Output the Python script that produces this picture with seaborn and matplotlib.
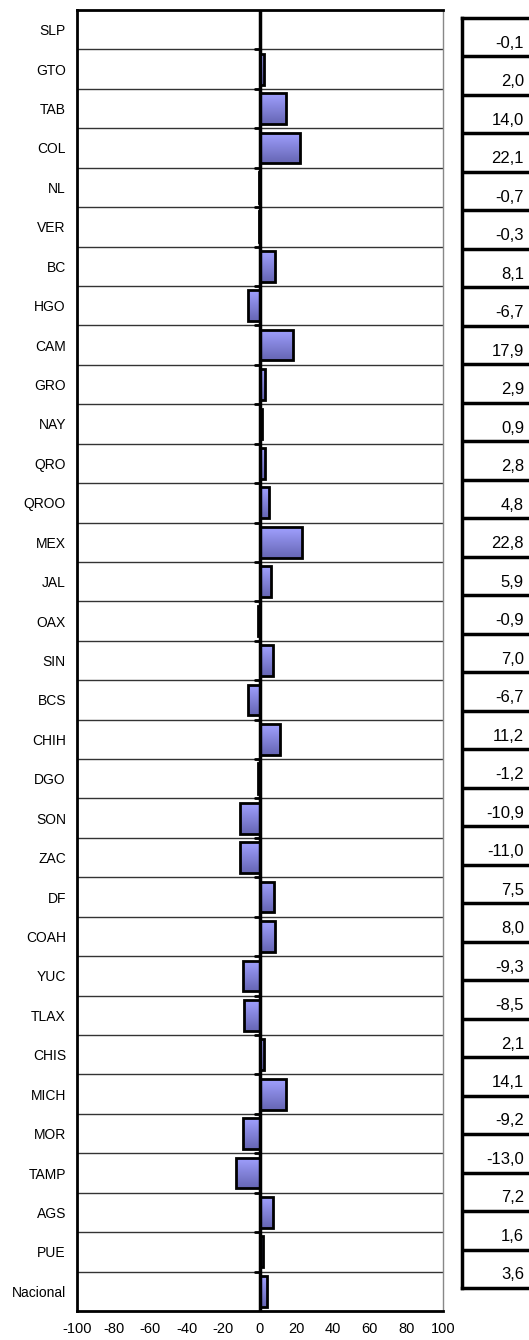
import matplotlib
matplotlib.use("Agg")
import matplotlib.pyplot as plt
import seaborn as sns
import pandas as pd
import numpy as np
from matplotlib.colors import LinearSegmentedColormap

# --- data ---
estados = ['SLP', 'GTO', 'TAB', 'COL', 'NL', 'VER', 'BC', 'HGO', 'CAM', 'GRO', 'NAY',
           'QRO', 'QROO', 'MEX', 'JAL', 'OAX', 'SIN', 'BCS', 'CHIH', 'DGO', 'SON', 'ZAC',
           'DF', 'COAH', 'YUC', 'TLAX', 'CHIS', 'MICH', 'MOR', 'TAMP', 'AGS', 'PUE', 'Nacional']
valores = [-0.1, 2.0, 14.0, 22.1, -0.7, -0.3, 8.1, -6.7, 17.9, 2.9, 0.9,
           2.8, 4.8, 22.8, 5.9, -0.9, 7.0, -6.7, 11.2, -1.2, -10.9, -11.0,
           7.5, 8.0, -9.3, -8.5, 2.1, 14.1, -9.2, -13.0, 7.2, 1.6, 3.6]
x_ticks = [-100, -80, -60, -40, -20, 0, 20, 40, 60, 80, 100]

df = pd.DataFrame({'Estado': estados, 'Valor': valores})
n = len(df)

sns.set_style("white")
plt.rcParams['font.family'] = ['Liberation Sans', 'DejaVu Sans']
plt.rcParams['text.color'] = 'black'
plt.rcParams['xtick.color'] = 'black'
plt.rcParams['ytick.color'] = 'black'

W, H = 529, 1340
fig = plt.figure(figsize=(W / 100, H / 100), dpi=100)
ax = fig.add_axes([77 / W, 29 / H, 366 / W, 1301 / H])

sns.barplot(x='Valor', y='Estado', data=df, orient='h', color='#8888EE',
            edgecolor='black', linewidth=2, width=0.78, ax=ax, zorder=3)

# vertical gradient fill inside each bar (light on top, darker at bottom)
cmap = LinearSegmentedColormap.from_list('bar', ['#A0A0FF', '#6666B4'])
grad = np.linspace(0, 1, 64).reshape(-1, 1)
for p in ax.patches:
    x0, y0 = p.get_x(), p.get_y()
    w, h = p.get_width(), p.get_height()
    if w == 0:
        continue
    im = ax.imshow(grad, cmap=cmap, aspect='auto', zorder=2.9,
                   extent=[x0, x0 + w, y0 + h, y0], interpolation='bilinear')
    im.set_clip_path(p)
    p.set_facecolor('none')

ax.set_xlim(-100, 100)
ax.set_ylim(n - 0.5, -0.5)
ax.set_xticks(x_ticks)
ax.set_xticklabels([str(t) for t in x_ticks], fontsize=10.5, color='black')
ax.set_ylabel('')
ax.set_xlabel('')

# category boundaries: gridlines and ticks
bounds = np.arange(-0.5, n, 1.0)
ax.set_yticks(bounds, minor=True)
ax.set_yticks(range(n))
ax.set_yticklabels(estados, fontsize=10, color='black')
ax.tick_params(axis='y', which='major', length=0, pad=8)
ax.tick_params(axis='y', which='minor', length=8, width=2, direction='inout', color='black')
ax.tick_params(axis='x', length=5, width=1, direction='out', color='#333333', pad=3)
for b in bounds[1:-1]:
    ax.axhline(b, color='#333333', linewidth=1.0, zorder=1)
    ax.plot([-3, 0], [b, b], color='black', linewidth=2, zorder=4)

ax.axvline(0, color='black', linewidth=2.5, zorder=4)

for side in ['left', 'top', 'bottom']:
    ax.spines[side].set_color('black')
    ax.spines[side].set_linewidth(2)
ax.spines['right'].set_color('#888888')
ax.spines['right'].set_linewidth(1)

# value table on the right
tab = fig.add_axes([462 / W, 52 / H, 90 / W, 1270 / H])
tab.set_xlim(0, 1)
tab.set_ylim(n, 0)
tab.set_xticks([])
tab.set_yticks([])
for side in ['left', 'top', 'bottom', 'right']:
    tab.spines[side].set_color('black')
    tab.spines[side].set_linewidth(2.5)
for i in range(1, n):
    tab.axhline(i, color='black', linewidth=2.5)
for i, v in enumerate(valores):
    tab.text((524 - 462) / 90, i + 0.66, f'{v:.1f}'.replace('.', ','),
             ha='right', va='center', fontsize=12)

fig.savefig('out.png', dpi=100)
